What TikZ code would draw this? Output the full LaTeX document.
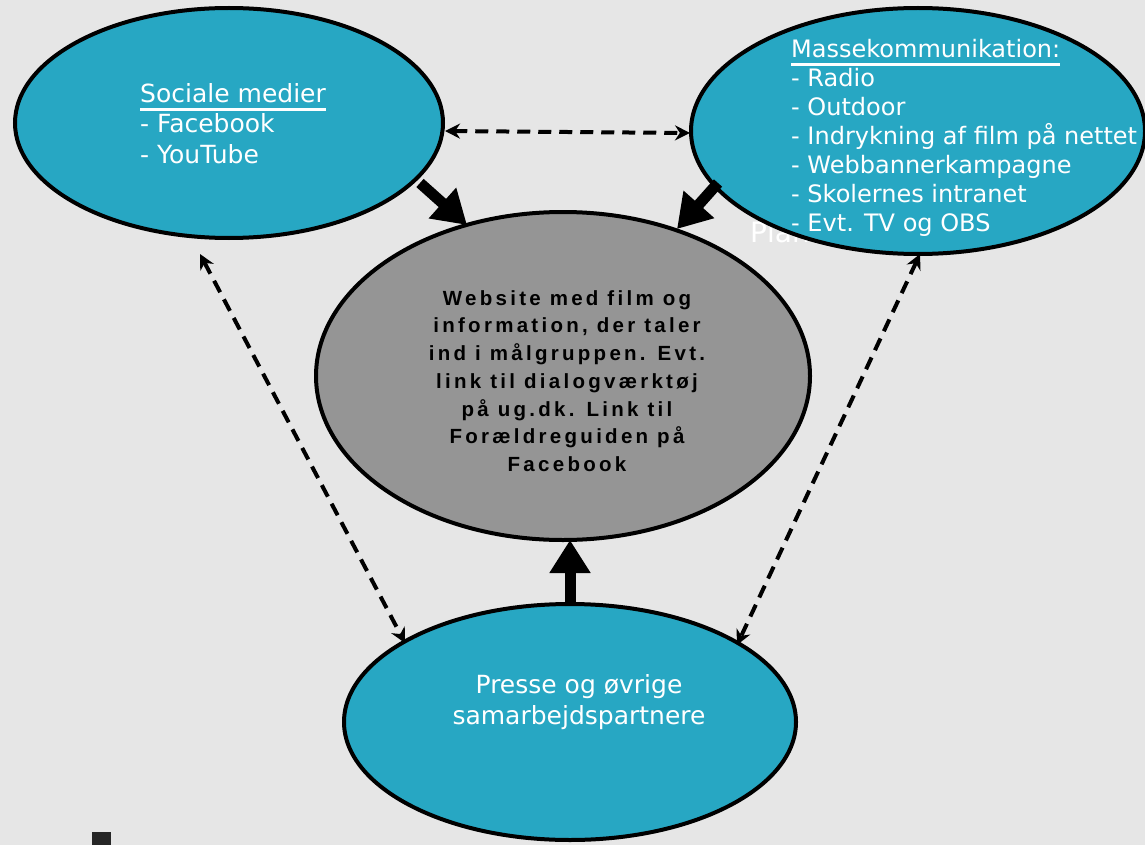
\documentclass[tikz,border=0pt]{standalone}
\usepackage{fontspec}
\usetikzlibrary{shapes.geometric,arrows.meta}
\newfontfamily\vfont{DejaVu Sans}
\newfontfamily\afont[LetterSpace=16]{Liberation Sans}
\definecolor{bgc}{HTML}{E6E6E6}
\definecolor{teal}{HTML}{27A7C3}
\definecolor{midgray}{HTML}{959595}
\newcommand\myul[1]{\setbox0\hbox{#1}\rlap{\rule[-9pt]{\wd0}{3pt}}\box0}
\tikzset{
  oval/.style={ellipse,draw=black,line width=4pt,fill=teal,inner sep=0pt},
  wtext/.style={text=white,align=left,inner sep=0pt,anchor=north west},
  dasharrow/.style={line width=4pt,dash pattern=on 13pt off 8pt,{Stealth[length=15pt,width=15pt]}-{Stealth[length=15pt,width=15pt]}},
  blockarrow/.style={line width=11pt,-{Triangle[width=39pt,length=33pt]}}
}
\begin{document}
\begin{tikzpicture}[x=1pt,y=-1pt]
\useasboundingbox (0,0) rectangle (1145,845);
\fill[bgc] (0,0) rectangle (1145,845);
% partially hidden text behind top-right ellipse
\node[text=white,font=\vfont\fontsize{28}{30}\selectfont,anchor=base west,inner sep=0pt] (hidden) at (750,242) {Plan};
% fragment bottom-left
\fill[black!85] (92,832) rectangle (111,845);
% ellipses
\node[oval,minimum width=428,minimum height=230] (soc) at (229,123) {};
\node[oval,minimum width=454,minimum height=246] (mass) at (918,131) {};
\node[ellipse,draw=black,line width=4pt,fill=midgray,inner sep=0pt,minimum width=494,minimum height=328] (web) at (563,376) {};
\node[oval,minimum width=452,minimum height=236] (press) at (570,722) {};
% texts
\node[wtext,font=\vfont\fontsize{25}{30.5}\selectfont] (soct) at (140,83) {\myul{Sociale medier}\\- Facebook\\- YouTube};
\node[wtext,font=\vfont\fontsize{24}{29}\selectfont] (masst) at (791,39) {\myul{Massekommunikation:}\\- Radio\\- Outdoor\\- Indrykning af film på nettet\\- Webbannerkampagne\\- Skolernes intranet\\- Evt. TV og OBS};
\node[text=black,font=\afont\bfseries\fontsize{20.5}{27.7}\selectfont,align=center,inner sep=0pt] (webt) at (567,381) {Website med film og\\information, der taler\\ind i målgruppen. Evt.\\link til dialogværktøj\\på ug.dk. Link til\\Forældreguiden på\\Facebook};
\node[text=white,font=\vfont\fontsize{25}{31}\selectfont,align=center,inner sep=0pt] (presst) at (579,702) {Presse og øvrige\\samarbejdspartnere};
% connectors
\coordinate (a1) at (445,131);
\coordinate (a2) at (690,133);
\coordinate (b1) at (200,254);
\coordinate (b2) at (405,643);
\coordinate (c1) at (920,254);
\coordinate (c2) at (737,645);
\draw[dasharrow] (a1) -- (a2);
\draw[dasharrow] (b1) -- (b2);
\draw[dasharrow] (c1) -- (c2);
\coordinate (s1) at (420,183);
\coordinate (s2) at (467,225);
\coordinate (m1) at (718,183);
\coordinate (m2) at (677,229);
\coordinate (p1) at (570,606);
\coordinate (p2) at (570,540);
\draw[blockarrow] (s1) -- (s2);
\draw[blockarrow] (m1) -- (m2);
\draw[blockarrow] (p1) -- (p2);
\end{tikzpicture}
\end{document}
